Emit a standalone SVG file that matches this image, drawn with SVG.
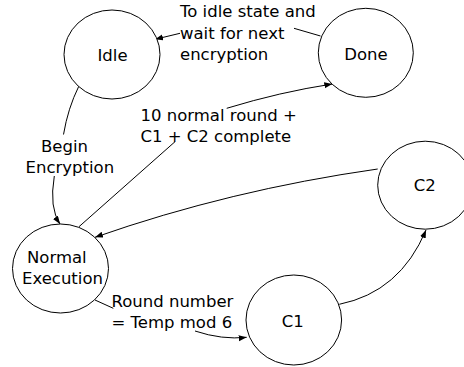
<svg xmlns="http://www.w3.org/2000/svg" width="464" height="367" viewBox="0 0 464 367">
<style>
.node ellipse{fill:#fff;stroke:#000;stroke-width:1}
text{font-family:"DejaVu Sans",sans-serif;font-size:16.5px;fill:#000}
.mid{text-anchor:middle}
.edge{fill:none;stroke:#000;stroke-width:1}
</style>
<defs>
<marker id="arr" markerUnits="userSpaceOnUse" markerWidth="9" markerHeight="7" refX="8" refY="3" orient="auto">
<path d="M0,0 L8,3 L0,6 z" fill="#000"/>
</marker>
</defs>
<rect width="464" height="367" fill="#fff"/>
<g id="connectors">
<path class="edge" d="M320.5,36 L294,28.3"/>
<path class="edge" d="M180,33.3 L155,39.3" marker-end="url(#arr)"/>
<path class="edge" d="M78.7,86.5 Q68,108 63.5,134.5"/>
<path class="edge" d="M54.3,176 Q49,208 60,224" marker-end="url(#arr)"/>
<path class="edge" d="M79,226.7 L175,141.7"/>
<path class="edge" d="M226.7,108.3 Q280,92 332.3,84" marker-end="url(#arr)"/>
<path class="edge" d="M377.7,169 Q230,190 95,237.3" marker-end="url(#arr)"/>
<path class="edge" d="M95,300 L113.3,308.3"/>
<path class="edge" d="M195,331 Q222,340 246.7,337.3" marker-end="url(#arr)"/>
<path class="edge" d="M339.3,304.3 Q400,292 426,230" marker-end="url(#arr)"/>
</g>
<g id="idle" class="node">
<ellipse cx="112" cy="54.5" rx="48" ry="44.5"/>
<text class="mid" x="112.5" y="61">Idle</text>
</g>
<g id="done" class="node">
<ellipse cx="365.8" cy="52.8" rx="47.5" ry="44.5"/>
<text class="mid" x="366" y="60">Done</text>
</g>
<g id="c2" class="node">
<ellipse cx="425.2" cy="185.2" rx="47.5" ry="44"/>
<text class="mid" x="424.7" y="191">C2</text>
</g>
<g id="normal" class="node">
<ellipse cx="60.5" cy="268.5" rx="48" ry="44.5"/>
<text x="27" y="263.3">Normal</text>
<text x="22" y="284">Execution</text>
</g>
<g id="c1" class="node">
<ellipse cx="293.8" cy="320" rx="47.8" ry="45"/>
<text class="mid" x="292.7" y="326.7">C1</text>
</g>
<g id="labels">
<text x="180" y="17.3">To idle state and</text>
<text x="180" y="38.6">wait for next</text>
<text x="180" y="59.9">encryption</text>
<text x="41" y="151.7">Begin</text>
<text x="25.5" y="172.7">Encryption</text>
<text x="140.5" y="120.7">10 normal round +</text>
<text x="140.5" y="141.7">C1 + C2 complete</text>
<text x="111.5" y="307.3">Round number</text>
<text x="111.5" y="327.7">= Temp mod 6</text>
</g>
</svg>
